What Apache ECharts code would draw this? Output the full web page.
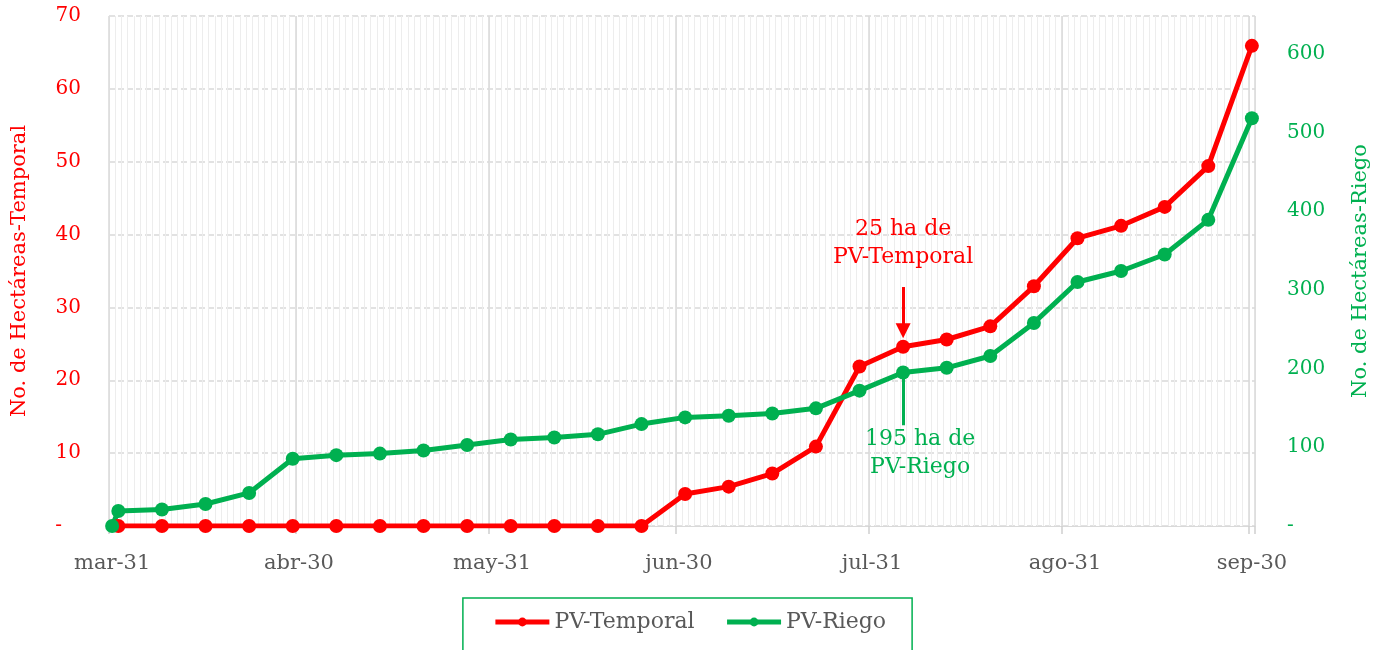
<!DOCTYPE html>
<html><head><meta charset="utf-8">
<script src="https://cdn.jsdelivr.net/npm/echarts@6/dist/echarts.min.js"></script>
<style>html,body{margin:0;padding:0;background:#fff}#c{width:1379px;height:650px}</style>
</head><body><div id="c"></div>
<script>
// ---- data ----
const startDate = '2021-03-31';
const endDate = '2021-09-30';
const monthTicks = ['2021-03-31','2021-04-30','2021-05-31','2021-06-30','2021-07-31','2021-08-31','2021-09-30'];
const monthNames = ['ene','feb','mar','abr','may','jun','jul','ago','sep','oct','nov','dic'];

const temporalDates = ['2021-04-01','2021-04-08','2021-04-15','2021-04-22','2021-04-29','2021-05-06','2021-05-13',
  '2021-05-20','2021-05-27','2021-06-03','2021-06-10','2021-06-17','2021-06-24','2021-07-01','2021-07-08',
  '2021-07-15','2021-07-22','2021-07-29','2021-08-05','2021-08-12','2021-08-19','2021-08-26','2021-09-02',
  '2021-09-09','2021-09-16','2021-09-23','2021-09-30'];
const temporalValues = [0,0,0,0,0,0,0,0,0,0,0,0,0,4.4,5.4,7.2,10.9,21.9,24.6,25.6,27.4,32.9,39.5,41.2,43.8,49.4,65.9];

const riegoDates = ['2021-03-31','2021-04-01','2021-04-08','2021-04-15','2021-04-22','2021-04-29','2021-05-06','2021-05-13',
  '2021-05-20','2021-05-27','2021-06-03','2021-06-10','2021-06-17','2021-06-24','2021-07-01','2021-07-08',
  '2021-07-15','2021-07-22','2021-07-29','2021-08-05','2021-08-12','2021-08-19','2021-08-26','2021-09-02',
  '2021-09-09','2021-09-16','2021-09-23','2021-09-30'];
const riegoValues = [0,19,21,28,42,85.5,90,92,96,103,110,112.5,116.5,129.5,138,140,143,149.5,172,195,201,216,258,310,324,345,389,518];

const annotDate = '2021-08-05';
const annotTemporalText = '25 ha de\nPV-Temporal';
const annotRiegoText = '195 ha de\nPV-Riego';

// ---- build ----
const RED = '#ff0000', GREEN = '#00b050';
const FONT = 'DejaVu Serif';
function dayList(a, b) {
  const out = [];
  const pa = a.split('-').map(Number), pb = b.split('-').map(Number);
  let t = Date.UTC(pa[0], pa[1]-1, pa[2]);
  const e = Date.UTC(pb[0], pb[1]-1, pb[2]);
  while (t <= e) { out.push(new Date(t).toISOString().slice(0,10)); t += 86400000; }
  return out;
}
const days = dayList(startDate, endDate);
const majorSet = new Set(monthTicks);
const isMajor = (i, v) => majorSet.has(v);
const fmtDay = v => { const p = v.split('-'); return monthNames[+p[1]-1] + '-' + p[2]; };

const chart = echarts.init(document.getElementById('c'));
chart.setOption({
  animation: false,
  backgroundColor: '#fff',
  grid: { left: 109, right: 124, top: 16, bottom: 124, containLabel: false },
  legend: {
    data: ['PV-Temporal','PV-Riego'],
    left: 'center', top: 598,
    padding: [13, 26, 20, 30],
    borderColor: GREEN, borderWidth: 1.5,
    itemWidth: 54, itemHeight: 11, itemGap: 30,
    lineStyle: { width: 5 },
    textStyle: { color: '#595959', fontSize: 22, fontFamily: FONT }
  },
  xAxis: [
    { type: 'category', data: days, boundaryGap: true, show: true,
      axisLine: { show: false }, axisTick: { show: false }, axisLabel: { show: false },
      splitLine: { show: true, interval: 0, lineStyle: { color: '#ededed', width: 1 } } },
    { type: 'category', data: days, boundaryGap: true, position: 'bottom',
      axisLine: { show: true, lineStyle: { color: '#d9d9d9', width: 1 } },
      axisTick: { show: true, interval: isMajor, length: 8, lineStyle: { color: '#d0d0d0', width: 1.5 } },
      axisLabel: { interval: isMajor, formatter: fmtDay, margin: 27, color: '#595959', fontSize: 21, fontFamily: FONT },
      splitLine: { show: true, interval: isMajor, lineStyle: { color: '#d9d9d9', width: 1.5 } } }
  ],
  yAxis: [
    { type: 'value', min: 0, max: 70, interval: 10, position: 'left',
      name: 'No. de Hectáreas-Temporal', nameLocation: 'middle', nameRotate: 90, nameGap: 79,
      nameTextStyle: { color: RED, fontSize: 21, fontFamily: FONT },
      axisLine: { show: false }, axisTick: { show: false },
      axisLabel: { margin: 28, color: RED, fontSize: 20, fontFamily: FONT,
        formatter: v => v === 0 ? '-   ' : String(v) },
      splitLine: { show: true, lineStyle: { color: '#d9d9d9', width: 1.5, type: [6, 3] } } },
    { type: 'value', min: 0, max: 648, interval: 100, position: 'right',
      name: 'No. de Hectáreas-Riego', nameLocation: 'middle', nameRotate: 90, nameGap: 95,
      nameTextStyle: { color: GREEN, fontSize: 21, fontFamily: FONT },
      axisLine: { show: false }, axisTick: { show: false },
      axisLabel: { margin: 32, color: GREEN, fontSize: 20, fontFamily: FONT,
        formatter: v => v === 0 ? '-' : (v % 100 === 0 ? String(v) : '') },
      splitLine: { show: false } }
  ],
  series: [
    { name: 'PV-Temporal', type: 'line', xAxisIndex: 1, yAxisIndex: 0,
      data: temporalDates.map((d, i) => [d, temporalValues[i]]),
      symbol: 'circle', symbolSize: 14, showAllSymbol: true,
      lineStyle: { color: RED, width: 5 }, itemStyle: { color: RED },
      markLine: { silent: true, animation: false, symbol: ['none','triangle'], symbolSize: 15,
        label: { show: false },
        lineStyle: { color: RED, width: 3, type: 'solid' },
        data: [[ { coord: [annotDate, 32.8] }, { coord: [annotDate, 26.8] } ]] },
      markPoint: { silent: true, animation: false,
        data: [ { coord: [annotDate, 38.8], symbol: 'circle', symbolSize: 0,
          label: { show: true, position: 'inside', formatter: annotTemporalText, color: RED,
            fontSize: 22, lineHeight: 28, fontFamily: FONT, align: 'center' } } ] } },
    { name: 'PV-Riego', type: 'line', xAxisIndex: 1, yAxisIndex: 1,
      data: riegoDates.map((d, i) => [d, riegoValues[i]]),
      symbol: 'circle', symbolSize: 14, showAllSymbol: true,
      lineStyle: { color: GREEN, width: 5 }, itemStyle: { color: GREEN },
      markLine: { silent: true, animation: false, symbol: ['none','none'],
        label: { show: false },
        lineStyle: { color: GREEN, width: 3, type: 'solid' },
        data: [[ { coord: [annotDate, 195] }, { coord: [annotDate, 128] } ]] },
      markPoint: { silent: true, animation: false,
        data: [ { coord: [annotDate, 92.8], symbol: 'circle', symbolSize: 0,
          label: { show: true, position: 'inside', offset: [17, 0], formatter: annotRiegoText, color: GREEN,
            fontSize: 22, lineHeight: 28, fontFamily: FONT, align: 'center' } } ] } }
  ]
});
</script></body></html>
